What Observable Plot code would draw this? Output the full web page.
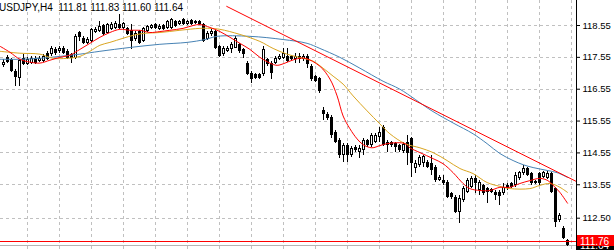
<!DOCTYPE html>
<html><head><meta charset="utf-8">
<script src="https://cdn.jsdelivr.net/npm/d3@7"></script>
<script src="https://cdn.jsdelivr.net/npm/@observablehq/plot@0.6"></script>
<style>html,body{margin:0;padding:0;background:#fff;} #chart{width:614px;height:250px;overflow:hidden;}</style>
</head><body><div id="chart"></div>
<script>
const symbol = "USDJPY";
const timeframe = "H4";

const open = [117.30,117.55,117.49,117.12,116.90,117.52,117.33,117.37,117.52,117.43,
117.43,117.68,117.65,117.80,117.74,117.83,117.74,117.65,117.52,118.33,
118.15,117.99,118.05,118.33,118.36,118.55,118.30,118.43,118.46,118.58,
118.46,118.46,118.40,118.11,118.36,118.05,118.36,118.46,118.58,118.43,
118.55,118.46,118.46,118.68,118.58,118.74,118.58,118.71,118.61,118.68,
118.58,118.11,118.27,118.36,117.90,117.65,117.74,117.80,117.83,117.96,
117.80,117.37,117.05,117.02,117.02,117.02,117.49,117.37,117.37,117.49,
117.52,117.58,117.58,117.49,117.58,117.49,117.58,117.27,116.96,116.90,
115.87,115.77,115.65,115.18,114.93,114.46,114.78,114.46,114.71,114.56,
114.62,114.93,114.78,114.87,115.03,115.34,114.87,114.87,114.84,114.78,
114.59,114.87,114.99,114.06,114.15,114.21,114.25,114.21,114.09,113.68,
113.68,113.62,113.28,113.15,112.69,113.06,113.31,113.47,113.75,113.37,
113.53,113.43,113.40,113.31,113.31,113.28,113.53,113.59,113.53,113.75,
113.90,114.06,113.90,113.59,113.90,113.78,113.75,113.90,113.43,112.44,
112.19,111.81];
const high = [117.49,117.62,117.52,117.18,117.49,117.65,117.55,117.58,117.58,117.58,
117.65,117.74,117.90,117.86,117.90,117.90,117.80,117.68,118.27,118.36,
118.21,118.18,118.46,118.49,118.68,118.58,118.61,118.64,118.68,118.89,
118.64,118.49,118.58,118.36,118.40,118.49,118.55,118.58,118.61,118.58,
118.58,118.71,118.77,118.71,118.71,118.77,118.71,118.74,118.71,118.71,
118.61,118.36,118.43,118.40,117.93,117.90,117.90,118.02,118.21,117.99,
117.83,117.43,117.12,117.05,117.05,117.90,117.52,117.43,117.58,117.65,
117.83,117.83,117.62,117.68,117.68,117.65,117.65,117.33,116.99,116.93,
115.96,115.81,115.71,115.24,114.99,114.84,114.84,114.74,114.78,114.78,
114.99,114.96,115.15,115.15,115.34,115.40,114.93,114.90,114.87,114.81,
114.87,115.09,115.03,114.31,114.46,114.46,114.31,114.46,114.15,113.84,
113.84,113.68,113.31,113.22,113.22,113.50,113.75,113.81,113.84,113.68,
113.56,113.47,113.43,113.37,113.37,113.59,113.59,113.62,113.93,113.96,
114.15,114.09,113.93,113.68,113.93,113.96,113.96,113.93,113.47,112.65,
112.25,111.83];
const low = [117.24,117.37,117.08,116.65,116.65,117.30,117.30,117.33,117.33,117.40,
117.40,117.46,117.58,117.62,117.68,117.65,117.49,117.37,117.49,118.05,
117.96,117.96,118.02,118.30,118.33,118.24,118.27,118.40,118.43,118.43,
118.43,118.24,117.80,118.05,117.96,118.02,118.33,118.43,118.43,118.40,
118.40,118.43,118.43,118.49,118.55,118.55,118.55,118.55,118.58,118.55,
118.02,118.08,118.21,117.80,117.55,117.58,117.71,117.68,117.83,117.68,
117.52,116.99,116.74,116.87,116.87,116.96,117.27,116.87,117.33,117.46,
117.49,117.40,117.46,117.37,117.37,117.43,117.21,116.80,116.77,116.43,
115.56,115.56,114.99,114.84,114.37,114.25,114.25,114.40,114.56,114.37,
114.46,114.71,114.71,114.84,114.87,114.74,114.56,114.71,114.56,114.56,
114.53,114.15,113.78,113.90,114.09,114.09,114.06,113.84,113.62,113.65,
113.53,113.12,113.09,112.65,112.34,113.00,113.28,113.43,113.28,113.22,
113.22,112.97,113.28,113.06,112.90,113.22,113.37,113.43,113.47,113.68,
113.84,113.81,113.53,113.56,113.53,113.75,113.72,113.28,112.22,112.37,
111.84,111.60];
const close = [117.40,117.40,117.12,116.93,117.46,117.33,117.49,117.52,117.37,117.52,
117.58,117.49,117.83,117.68,117.83,117.68,117.52,117.52,118.21,118.18,
117.99,118.11,118.43,118.43,118.52,118.27,118.58,118.58,118.61,118.46,
118.61,118.27,118.05,118.30,117.99,118.46,118.52,118.55,118.46,118.52,
118.43,118.68,118.74,118.52,118.68,118.58,118.68,118.58,118.68,118.58,
118.05,118.30,118.36,117.83,117.58,117.83,117.83,117.96,118.15,117.74,
117.65,117.02,116.87,116.90,116.90,117.80,117.33,117.05,117.52,117.58,
117.68,117.43,117.49,117.58,117.49,117.58,117.33,116.87,116.80,116.49,
115.77,115.62,115.09,114.87,114.46,114.78,114.46,114.68,114.62,114.68,
114.93,114.78,115.09,115.09,115.18,114.78,114.78,114.78,114.71,114.62,
114.81,114.53,114.21,114.21,114.40,114.43,114.09,114.00,113.68,113.78,
113.59,113.15,113.15,112.69,113.12,113.43,113.68,113.75,113.59,113.62,
113.28,113.31,113.31,113.22,113.18,113.47,113.43,113.47,113.84,113.93,
114.06,113.84,113.59,113.65,113.59,113.93,113.90,113.31,112.37,112.59,
111.87,111.64];

// moving averages (bar index, price)
const redIdx = [-0.9,1.6,4.1,6.6,9.1,11.6,14.1,16.6,19.1,21.6,24.1,26.6,29.1,31.6,34.1,36.6,39.1,41.6,44.9,47.4,49.1,51.6,54.1,56.6,59.1,61.6,64.1,66.6,68.4,70.4,72.9,75.4,79.1,81.6,83.4,84.9,86.6,88.4,89.9,92.1,94.1,95.9,98.4,100.4,101.6,104.1,107.4,109.9,112.4,114.9,116.6,119.1,121.6,124.1,126.6,129.1,131.6,134.1,136.1,137.4,139.1,141];
const redVal = [117.90,117.71,117.49,117.40,117.37,117.46,117.55,117.62,117.80,117.99,118.18,118.33,118.43,118.40,118.40,118.33,118.36,118.40,118.46,118.55,118.58,118.49,118.36,118.18,117.99,117.80,117.55,117.37,117.30,117.37,117.49,117.52,117.27,116.87,116.34,115.71,115.31,114.99,114.81,114.71,114.78,114.84,114.87,114.84,114.71,114.56,114.37,114.21,113.93,113.59,113.43,113.37,113.37,113.47,113.47,113.59,113.68,113.75,113.68,113.53,113.31,112.97];
const orangeIdx = [-0.9,4.1,9.1,12.4,15.9,19.1,21.6,24.1,26.6,29.9,32.4,34.9,39.1,44.1,49.1,51.6,54.1,59.1,64.1,67.4,70.9,74.9,77.4,79.9,82.4,84.9,87.4,90.9,94.1,96.6,100.4,104.1,107.4,110.9,114.1,117.4,120.9,124.1,126.6,131.6,134.1,136.6,139.1,141];
const orangeVal = [117.74,117.68,117.65,117.52,117.52,117.58,117.74,117.93,118.02,118.15,118.24,118.30,118.33,118.40,118.46,118.46,118.43,118.27,118.05,117.83,117.65,117.52,117.43,117.21,116.96,116.71,116.34,115.87,115.46,115.15,114.84,114.71,114.56,114.31,114.06,113.90,113.62,113.50,113.43,113.43,113.53,113.59,113.47,113.31];
const blueIdx = [-0.9,4.1,9.1,14.1,19.1,24.1,31.6,39.1,45.9,50.4,53.4,61.6,69.9,75.9,79.1,84.1,89.1,94.9,99.1,107.1,112.4,117.4,120.9,124.1,127.4,129.9,132.4,135.9,138.4,141];
const blueVal = [117.49,117.49,117.52,117.58,117.65,117.74,117.86,117.96,118.02,118.11,118.21,118.21,118.11,117.99,117.83,117.55,117.21,116.80,116.55,115.87,115.49,115.15,114.84,114.53,114.31,114.18,114.09,114.00,113.93,113.78];

const trendIdx = [55.8, 143.1];
const trendVal = [119.15, 113.66];
const levelLine = 111.76;
const yTicks = [118.55, 117.55, 116.55, 115.55, 114.55, 113.55, 112.50];
const gridBars = [6,14,22,30,38,46,54,62,70,78,86,94,102,110,118,126,134,142];

const bars = open.map((o, i) => ({i, o, h: high[i], l: low[i], c: close[i], up: close[i] > o}));
const last = bars[bars.length - 1];
const bid = last.c;
const pts = (xs, ys) => xs.map((x, k) => ({x, y: ys[k]}));
const fmt = d => d.toFixed(2);
const grid = "#c0c0c0";

const plot = Plot.plot({
  width: 614, height: 250,
  marginTop: 0, marginBottom: 0, marginLeft: 0, marginRight: 38,
  style: {fontFamily: '"Liberation Sans", Arial, sans-serif', fontSize: "9.5px", background: "#fff", color: "#000", overflow: "visible"},
  x: {type: "linear", domain: [-0.75, 143.25], axis: null},
  y: {domain: [111.486, 119.335], axis: null},
  marks: [
    Plot.ruleY(yTicks, {stroke: grid, strokeDasharray: "3,3", shapeRendering: "crispEdges"}),
    Plot.ruleX(gridBars, {stroke: grid, strokeDasharray: "3,3", shapeRendering: "crispEdges"}),
    Plot.ruleY([bid], {stroke: "#b4b4b4", shapeRendering: "crispEdges"}),
    Plot.ruleX(bars, {x: "i", y1: "l", y2: "h", stroke: "#000", shapeRendering: "crispEdges"}),
    Plot.rect(bars, {x1: d => d.i - 0.375, x2: d => d.i + 0.375, y1: d => Math.min(d.o, d.c), y2: d => Math.max(d.o, d.c), fill: "#000", shapeRendering: "crispEdges"}),
    Plot.rect(bars.filter(d => d.up), {x1: d => d.i - 0.375, x2: d => d.i + 0.375, y1: "o", y2: "c", fill: "#fff", inset: 1, shapeRendering: "crispEdges"}),
    Plot.line(pts(blueIdx, blueVal), {x: "x", y: "y", stroke: "#4682b4", strokeWidth: 1, curve: "catmull-rom"}),
    Plot.line(pts(orangeIdx, orangeVal), {x: "x", y: "y", stroke: "#daa520", strokeWidth: 1, curve: "catmull-rom"}),
    Plot.line(pts(redIdx, redVal), {x: "x", y: "y", stroke: "#ff0000", strokeWidth: 1, curve: "catmull-rom"}),
    Plot.line(pts(trendIdx, trendVal), {x: "x", y: "y", stroke: "#ff0000", strokeWidth: 1}),
    Plot.ruleY([levelLine], {stroke: "#ff0000", shapeRendering: "crispEdges"}),
    Plot.frame({anchor: "right", stroke: "#000", shapeRendering: "crispEdges"}),
    Plot.axisY(yTicks, {anchor: "right", tickSize: 3, tickPadding: 3, tickFormat: fmt, label: null})
  ]
});
document.getElementById("chart").appendChild(plot);

const svg = d3.select(plot);
const ys = plot.scale("y");
const yBid = Math.round(ys.apply(bid));
const yLvl = Math.round(ys.apply(levelLine));

// bid label (black), only its lower edge shows below the level label
svg.append("defs").append("clipPath").attr("id", "bidclip")
  .append("rect").attr("x", 577).attr("y", yLvl + 5).attr("width", 37).attr("height", 20);
const gb = svg.append("g").attr("clip-path", "url(#bidclip)");
gb.append("rect").attr("x", 577).attr("y", yBid - 6).attr("width", 37).attr("height", 11).attr("fill", "#000");
gb.append("text").attr("x", 580).attr("y", yBid + 3.5).attr("fill", "#fff")
  .attr("text-anchor", "start").attr("font-size", "10px").text(fmt(bid));

// level label (red)
const gl = svg.append("g");
gl.append("rect").attr("x", 577).attr("y", yLvl - 6).attr("width", 37).attr("height", 11).attr("fill", "#ff0000");
gl.append("text").attr("x", 580).attr("y", yLvl + 3.5).attr("fill", "#fff")
  .attr("text-anchor", "start").attr("font-size", "10px").text(fmt(levelLine));

svg.append("text").attr("x", -1).attr("y", 11).attr("fill", "#000").attr("text-anchor", "start")
  .attr("font-size", "10px")
  .text(`${symbol},${timeframe}\u00a0\u00a0${[last.o, last.h, last.l, last.c].map(fmt).join(" ")}`);
</script>
</body></html>
